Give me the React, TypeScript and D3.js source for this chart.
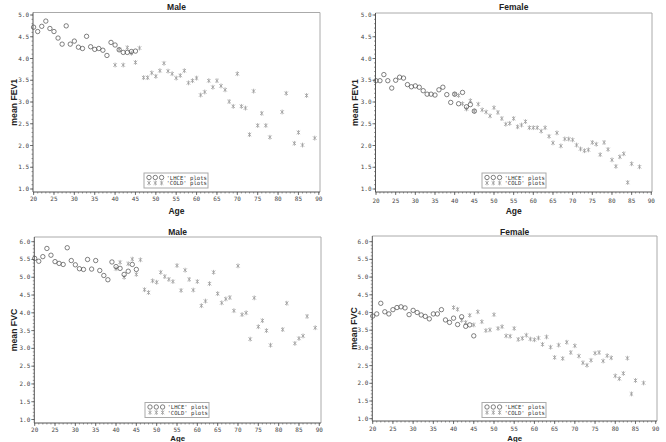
import React from "react";
import * as d3 from "d3";

const lhceAges = [20,21,22,23,24,25,26,27,28,29,30,31,32,33,34,35,36,37,38,39,40,41,42,43,44,45];
const maleColdAges = [40,41,42,43,44,45,46,47,48,49,50,51,52,53,54,55,56,57,58,59,60,61,62,63,64,65,66,67,68,69,70,71,72,73,74,75,76,77,78,81,82,84,85,86,87,89];
const femaleColdAges = [40,41,42,43,44,45,46,47,48,49,50,51,52,53,54,55,56,57,58,59,60,61,62,63,64,65,66,67,68,69,70,71,72,73,74,75,76,77,78,79,80,81,82,83,84,85,87];

const maleFev1Lhce = [4.72,4.62,4.74,4.86,4.69,4.62,4.47,4.33,4.75,4.33,4.40,4.26,4.23,4.51,4.27,4.21,4.23,4.19,4.07,4.37,4.31,4.20,4.14,4.14,4.16,4.17];
const maleFev1Cold = [3.85,4.21,3.85,4.25,4.12,3.91,4.24,3.56,3.56,3.67,3.59,3.72,3.89,3.71,3.65,3.55,3.61,3.72,3.44,3.49,3.55,3.16,3.23,3.49,3.34,3.49,3.37,3.28,3.01,2.90,3.65,2.90,2.86,2.25,3.25,2.46,2.74,2.46,2.19,2.77,3.20,2.05,2.30,2.01,3.15,2.17];

const femaleFev1Lhce = [3.49,3.49,3.63,3.49,3.32,3.50,3.57,3.55,3.40,3.35,3.37,3.34,3.26,3.18,3.18,3.16,3.28,3.34,3.17,2.99,3.18,2.96,3.22,2.89,2.94,2.79];
const femaleFev1Cold = [3.18,3.15,2.96,2.84,3.03,2.79,2.95,2.82,2.77,2.68,2.87,2.76,2.62,2.49,2.51,2.62,2.43,2.47,2.55,2.41,2.41,2.41,2.33,2.41,2.21,2.06,2.29,1.99,2.15,2.15,2.13,2.01,1.92,1.88,1.90,2.07,2.03,1.79,2.07,1.91,1.67,1.52,1.74,1.81,1.15,1.58,1.51];

const maleFvcLhce = [5.53,5.45,5.58,5.81,5.62,5.44,5.39,5.36,5.83,5.47,5.35,5.24,5.22,5.50,5.23,5.47,5.19,5.05,4.93,5.43,5.30,5.25,5.08,5.17,5.36,5.22];
const maleFvcCold = [5.24,5.42,5.00,5.38,5.51,5.08,5.49,4.65,4.57,4.90,4.86,5.14,5.02,4.94,4.88,5.33,4.63,5.20,4.94,4.64,4.88,4.20,4.33,4.82,5.14,4.54,4.28,4.39,4.43,4.06,5.32,3.95,4.00,3.26,4.42,3.61,3.78,3.50,3.09,3.53,4.27,3.14,3.28,3.35,3.90,3.58];

const femaleFvcLhce = [3.90,3.96,4.26,4.02,3.96,4.08,4.14,4.16,4.13,3.94,4.06,4.00,3.93,3.89,3.82,3.96,3.96,4.08,3.79,3.72,3.84,3.66,3.88,3.61,3.65,3.34];
const femaleFvcCold = [4.14,4.09,3.78,3.72,3.92,3.65,4.02,3.74,3.49,3.51,3.94,3.55,3.60,3.34,3.33,3.55,3.24,3.27,3.36,3.25,3.23,3.28,3.10,3.31,3.02,2.73,3.08,2.70,3.16,2.87,3.06,2.77,2.58,2.51,2.65,2.85,2.87,2.63,2.78,2.72,2.21,2.13,2.28,2.71,1.70,2.08,2.01];

const xTicks = [20,25,30,35,40,45,50,55,60,65,70,75,80,85,90];
const fev1Ticks = [1.0,1.5,2.0,2.5,3.0,3.5,4.0,4.5,5.0];
const fvcTicks = [1.0,1.5,2.0,2.5,3.0,3.5,4.0,4.5,5.0,5.5,6.0];
const legendLabels = ["'LHCE' plots", "'COLD' plots"];

const CIRCLE = "#4a4a4a";
const STAR = "#9a9a9a";
const AXIS = "#555";
const FRAME = "#aaa";
const MONO = "'DejaVu Sans Mono', 'Liberation Mono', monospace";
const SANS = "'Liberation Sans', Arial, sans-serif";

type PanelProps = {
  title: string; yLabel: string;
  lhce: number[]; coldAges: number[]; cold: number[];
  yMax: number; yTicks: number[];
  x0: number; x1: number; y0: number; y1: number;
  fl: number; fr: number; ft: number; fb: number;
  titleY: number; yLabelX: number; xLabelY: number; tickLabelY: number; xLabelSize: number;
  legX: number; legY: number;
};

function Star({ x, y }: { x: number; y: number }) {
  const r = 2.4, d = 1.7;
  return (
    <g stroke={STAR} strokeWidth={0.8}>
      <line x1={x} y1={y - r} x2={x} y2={y + r} />
      <line x1={x - d} y1={y - d} x2={x + d} y2={y + d} />
      <line x1={x - d} y1={y + d} x2={x + d} y2={y - d} />
    </g>
  );
}

function Circ({ x, y }: { x: number; y: number }) {
  return <circle cx={x} cy={y} r={2.2} fill="none" stroke={CIRCLE} strokeWidth={0.7} />;
}

function Panel(p: PanelProps) {
  const xs = d3.scaleLinear().domain([20, 90]).range([p.x0, p.x1]);
  const ys = d3.scaleLinear().domain([1, p.yMax]).range([p.y1, p.y0]);
  const minorX = d3.range(20, 91, 1);
  const minorY = d3.range(10, p.yMax * 10 + 1, 1).map((v) => v / 10);
  const cx = (p.fl + p.fr) / 2;
  const cy = (p.ft + p.fb) / 2;
  return (
    <g>
      <text x={cx} y={p.titleY} textAnchor="middle" fontFamily={SANS} fontWeight="bold" fontSize={8.5} fill="#222">{p.title}</text>
      <line x1={p.fl} y1={p.ft} x2={p.fr} y2={p.ft} stroke={FRAME} strokeWidth={1} />
      <line x1={p.fr} y1={p.ft} x2={p.fr} y2={p.fb} stroke={FRAME} strokeWidth={1} />
      <line x1={p.fl} y1={p.ft} x2={p.fl} y2={p.fb} stroke={AXIS} strokeWidth={1} />
      <line x1={p.fl} y1={p.fb} x2={p.fr} y2={p.fb} stroke={AXIS} strokeWidth={1} />
      {minorY.map((v) => (
        <line key={"my" + v} x1={p.fl - 1.5} x2={p.fl} y1={ys(v)} y2={ys(v)} stroke={AXIS} strokeWidth={0.6} />
      ))}
      {p.yTicks.map((v) => (
        <g key={"y" + v}>
          <line x1={p.fl - 3} x2={p.fl} y1={ys(v)} y2={ys(v)} stroke={AXIS} strokeWidth={0.8} />
          <text x={p.fl - 4} y={ys(v) + 2} textAnchor="end" fontFamily={MONO} fontSize={6} fill="#444">{v.toFixed(1)}</text>
        </g>
      ))}
      {minorX.map((v) => (
        <line key={"mx" + v} x1={xs(v)} x2={xs(v)} y1={p.fb} y2={p.fb + 1.5} stroke={AXIS} strokeWidth={0.6} />
      ))}
      {xTicks.map((v) => (
        <g key={"x" + v}>
          <line x1={xs(v)} x2={xs(v)} y1={p.fb} y2={p.fb + 3} stroke={AXIS} strokeWidth={0.8} />
          <text x={xs(v)} y={p.tickLabelY} textAnchor="middle" fontFamily={MONO} fontSize={6} fill="#444">{v}</text>
        </g>
      ))}
      <text x={cx} y={p.xLabelY} textAnchor="middle" fontFamily={SANS} fontWeight="bold" fontSize={p.xLabelSize} fill="#222">Age</text>
      <text transform={`translate(${p.yLabelX},${cy}) rotate(-90)`} textAnchor="middle" fontFamily={SANS} fontWeight="bold" fontSize={8.7} fill="#222">{p.yLabel}</text>
      {p.coldAges.map((a, i) => <Star key={"s" + i} x={xs(a)} y={ys(p.cold[i])} />)}
      {lhceAges.map((a, i) => <Circ key={"c" + i} x={xs(a)} y={ys(p.lhce[i])} />)}
      <g>
        <rect x={p.legX} y={p.legY} width={64} height={15} fill="white" stroke={FRAME} strokeWidth={1} />
        {[0, 1, 2].map((k) => <Circ key={"lc" + k} x={p.legX + 5 + k * 6.3} y={p.legY + 4.5} />)}
        {[0, 1, 2].map((k) => <Star key={"ls" + k} x={p.legX + 5 + k * 6.3} y={p.legY + 10} />)}
        <text x={p.legX + 22.5} y={p.legY + 6.6} fontFamily={MONO} fontSize={5.6} fill="#333">{legendLabels[0]}</text>
        <text x={p.legX + 22.5} y={p.legY + 12.2} fontFamily={MONO} fontSize={5.6} fill="#333">{legendLabels[1]}</text>
      </g>
    </g>
  );
}

export default function App() {
  return (
    <svg width={666} height={442} style={{ position: "absolute", left: 0, top: 0, background: "white" }}>
      <rect width={666} height={442} fill="white" />
      <Panel title="Male" yLabel="mean FEV1" lhce={maleFev1Lhce} coldAges={maleColdAges} cold={maleFev1Cold}
        yMax={5} yTicks={fev1Ticks} x0={33.6} x1={318.8} y0={15} y1={189}
        fl={33} fr={320} ft={12.5} fb={192} titleY={10} yLabelX={17} xLabelY={214} tickLabelY={201} xLabelSize={8.5}
        legX={144} legY={173} />
      <Panel title="Female" yLabel="mean FEV1" lhce={femaleFev1Lhce} coldAges={femaleColdAges} cold={femaleFev1Cold}
        yMax={5} yTicks={fev1Ticks} x0={376} x1={651.3} y0={15} y1={189}
        fl={375.5} fr={652} ft={13} fb={192} titleY={10} yLabelX={358} xLabelY={214} tickLabelY={202.5} xLabelSize={8.5}
        legX={482} legY={173} />
      <Panel title="Male" yLabel="mean FVC" lhce={maleFvcLhce} coldAges={maleColdAges} cold={maleFvcCold}
        yMax={6} yTicks={fvcTicks} x0={34.7} x1={319.3} y0={241.7} y1={419.5}
        fl={34.3} fr={321} ft={237} fb={423} titleY={234.5} yLabelX={17} xLabelY={441.2} tickLabelY={432} xLabelSize={7.8}
        legX={145} legY={402.5} />
      <Panel title="Female" yLabel="mean FVC" lhce={femaleFvcLhce} coldAges={femaleColdAges} cold={femaleFvcCold}
        yMax={6} yTicks={fvcTicks} x0={372.7} x1={655.7} y0={241.7} y1={418.7}
        fl={372.3} fr={657} ft={236} fb={421} titleY={234.5} yLabelX={357} xLabelY={441.2} tickLabelY={431} xLabelSize={7.8}
        legX={482} legY={402.5} />
    </svg>
  );
}
